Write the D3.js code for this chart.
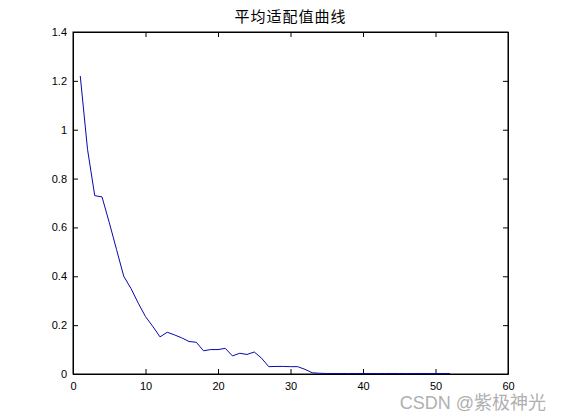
<!DOCTYPE html>
<html>
<head>
<meta charset="utf-8">
<script src="https://cdn.jsdelivr.net/npm/d3@7"></script>
<style>
  body { margin: 0; background: #fff; }
  svg { display: block; }
</style>
</head>
<body>
<div id="chart"></div>
<script>
// average fitness per generation
const generations = d3.range(1, 53);
const avgFitness = [
  1.22, 0.92, 0.73, 0.725, 0.62, 0.51, 0.40, 0.35, 0.29, 0.235,
  0.195, 0.152, 0.171, 0.16, 0.148, 0.133, 0.13, 0.095, 0.10, 0.10,
  0.105, 0.074, 0.085, 0.08, 0.09, 0.065, 0.03, 0.031, 0.031, 0.03,
  0.03, 0.019, 0.005, 0.003, 0.002, 0.002, 0.002, 0.002, 0.002, 0.002,
  0.002, 0.002, 0.002, 0.002, 0.002, 0.002, 0.002, 0.002, 0.002, 0.002,
  0.002, 0.002
];
const xTicks = [0, 10, 20, 30, 40, 50, 60];
const yTicks = [0, 0.2, 0.4, 0.6, 0.8, 1, 1.2, 1.4];
const titleText = "平均适配值曲线";
const watermark = "CSDN @紫极神光";

const width = 561, height = 420;
const margin = { top: 32, right: 53, bottom: 46, left: 73 };
const innerW = width - margin.left - margin.right;
const innerH = height - margin.top - margin.bottom;

const svg = d3.select("#chart").append("svg")
    .attr("width", width)
    .attr("height", height)
    .style("font-family", "Arial, 'Liberation Sans', sans-serif");

const x = d3.scaleLinear().domain([0, 60]).range([0, innerW]);
const y = d3.scaleLinear().domain([0, 1.4]).range([innerH, 0]);

const g = svg.append("g")
    .attr("transform", `translate(${margin.left},${margin.top})`);

// MATLAB style: ticks pointing inward on all four sides
const fmt = d => d3.format("~g")(d);
const tick = 5;

g.append("g")
    .attr("transform", `translate(0,${innerH})`)
    .call(d3.axisBottom(x).tickValues(xTicks).tickFormat(fmt).tickSizeInner(-tick).tickSizeOuter(0).tickPadding(8));
g.append("g")
    .call(d3.axisTop(x).tickValues(xTicks).tickFormat("").tickSizeInner(-tick).tickSizeOuter(0));
g.append("g")
    .call(d3.axisLeft(y).tickValues(yTicks).tickFormat(fmt).tickSizeInner(-tick).tickSizeOuter(0).tickPadding(6));
g.append("g")
    .attr("transform", `translate(${innerW},0)`)
    .call(d3.axisRight(y).tickValues(yTicks).tickFormat("").tickSizeInner(-tick).tickSizeOuter(0));

g.selectAll(".tick text")
    .style("font-size", "11px")
    .attr("fill", "#000");
g.selectAll(".domain, .tick line").attr("stroke", "#000");

// box
g.append("rect")
    .attr("width", innerW)
    .attr("height", innerH)
    .attr("fill", "none")
    .attr("stroke", "#000");

const line = d3.line()
    .x((d, i) => x(generations[i]))
    .y(d => y(d));

g.append("path")
    .datum(avgFitness)
    .attr("fill", "none")
    .attr("stroke", "#0808b0")
    .attr("stroke-width", 1)
    .attr("d", line);

svg.append("text")
    .attr("x", margin.left + innerW / 2)
    .attr("y", 22)
    .attr("text-anchor", "middle")
    .style("font-family", "'Noto Sans CJK SC', sans-serif")
    .style("font-size", "15px")
    .style("letter-spacing", "1px")
    .text(titleText);

svg.append("text")
    .attr("x", 546)
    .attr("y", 409)
    .attr("text-anchor", "end")
    .attr("fill", "#b0b0b0")
    .style("font-family", "Arial, 'Noto Sans CJK SC', sans-serif")
    .style("font-size", "18px")
    .text(watermark);
</script>
</body>
</html>
